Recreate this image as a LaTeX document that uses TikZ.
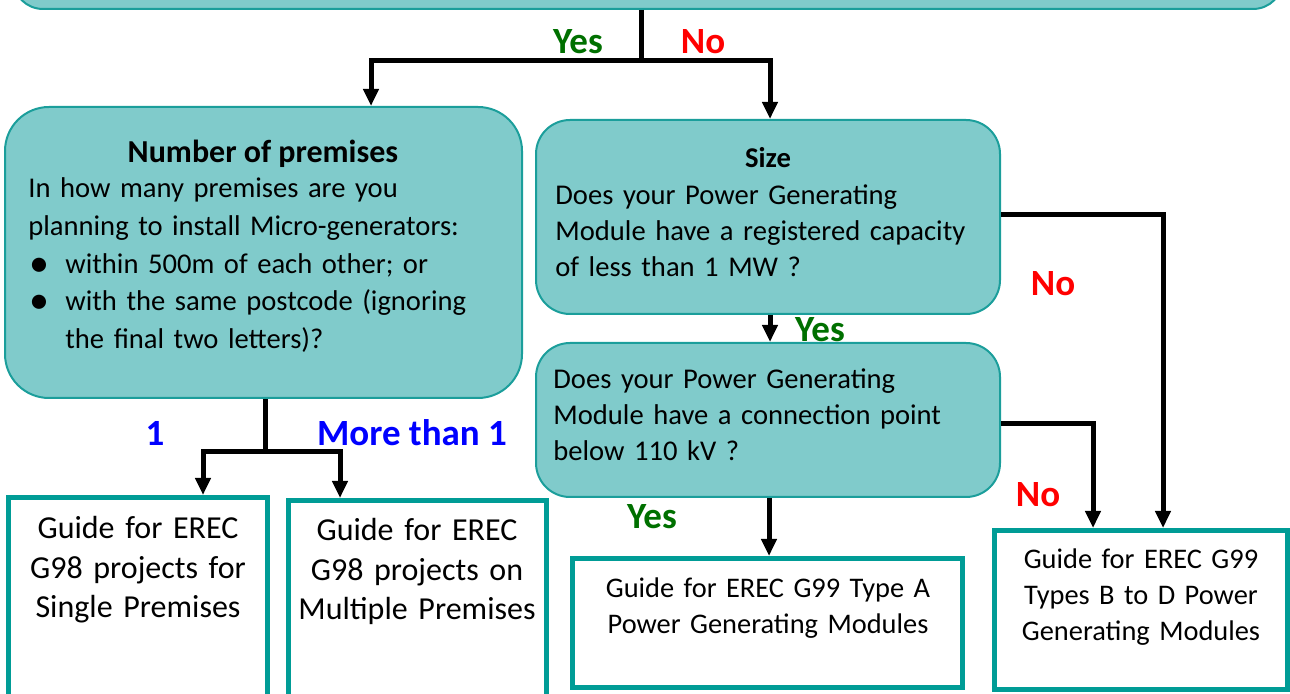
\documentclass[tikz,border=0pt]{standalone}
\usepackage{fontspec}
\setmainfont{Carlito}
\usetikzlibrary{arrows.meta}
\definecolor{qfill}{RGB}{128,203,203}
\definecolor{qdraw}{RGB}{27,158,155}
\definecolor{obord}{RGB}{0,156,150}
\definecolor{ygreen}{RGB}{0,112,0}
\definecolor{nred}{RGB}{255,0,0}
\definecolor{lblue}{RGB}{0,0,255}
\newcommand{\bigbul}{\raisebox{-1.6pt}{\fontsize{20}{20}\selectfont •}}
\begin{document}
\begin{tikzpicture}[x=0.5pt,y=-0.5pt,
  qbox/.style={draw=qdraw, fill=qfill, line width=1pt, rounded corners=17pt, inner sep=0pt},
  obox/.style={draw=obord, fill=white, line width=2.5pt, inner sep=0pt},
  qtext/.style={inner sep=0pt, font=\fontsize{14.3}{18.8}\selectfont},
  otext/.style={inner sep=0pt, align=center, font=\fontsize{16}{19.75}\selectfont},
  otextb/.style={inner sep=0pt, align=center, font=\fontsize{14.2}{18.1}\selectfont},
  lab/.style={inner sep=0pt, font=\bfseries\fontsize{18.5}{21}\selectfont},
  wire/.style={line width=2.5pt, black},
  wirearr/.style={wire, -{Triangle[length=8.5pt,width=7.5pt]}}
]
\useasboundingbox (0,0) rectangle (1290,694);
\clip (0,0) rectangle (1290,694);

% boxes
\node[qbox, minimum width=635pt, minimum height=50pt, rounded corners=15pt] (top) at (648,-41) {};
\node[qbox, minimum width=258.5pt, minimum height=145.5pt, rounded corners=22pt] (prem) at (263.5,252.5) {};
\node[qbox, minimum width=232pt, minimum height=97pt] (size) at (768,217) {};
\node[qbox, minimum width=232pt, minimum height=77pt] (conn) at (768,420) {};
\node[obox, minimum width=129.5pt, minimum height=111.25pt] (out1) at (138,608.75) {};
\node[obox, minimum width=129pt, minimum height=109.75pt] (out2) at (417.5,610.25) {};
\node[obox, minimum width=195pt, minimum height=64.5pt] (out3) at (767.5,623) {};
\node[obox, minimum width=146.25pt, minimum height=79.5pt] (out4) at (1140.75,610) {};

% texts in question boxes
\node[qtext, anchor=base, font=\bfseries\fontsize{16}{19}\selectfont] (premh) at (263,163) {Number of premises};
\node[qtext, anchor=base west, text width=245pt, align=left] (premt) at (28,198)
  {In how many premises are you\\
   planning to install Micro-generators:\\
   \makebox[18.5pt][l]{\hspace{0.5pt}\bigbul}within 500m of each other; or\\
   \makebox[18.5pt][l]{\hspace{0.5pt}\bigbul}with the same postcode (ignoring\\
   \hspace*{18.5pt}the final two letters)?};
\node[qtext, anchor=base] (sizeh) at (768,168) {\bfseries Size};
\node[qtext, anchor=base west, text width=220pt, align=left, font=\fontsize{14.3}{17.8}\selectfont] (sizet) at (555,205)
  {Does your Power Generating\\
   Module have a registered capacity\\
   of less than 1 MW ?};
\node[qtext, anchor=base west, text width=220pt, align=left, font=\fontsize{14.3}{17.8}\selectfont] (connt) at (553,389)
  {Does your Power Generating\\
   Module have a connection point\\
   below 110 kV ?};

% texts in output boxes
\node[otext, anchor=base, text width=125pt] (o1t) at (138,539)
  {Guide for EREC\\G98 projects for\\Single Premises};
\node[otext, anchor=base, text width=125pt] (o2t) at (417,541)
  {Guide for EREC\\G98 projects on\\Multiple Premises};
\node[otextb, anchor=base, text width=190pt] (o3t) at (768,597)
  {Guide for EREC G99 Type A\\Power Generating Modules};
\node[otextb, anchor=base, text width=140pt] (o4t) at (1141,568)
  {Guide for EREC G99\\Types B to D Power\\Generating Modules};

% connectors
\coordinate (j1) at (641,61);
\coordinate (pa) at (371,61);
\coordinate (sa) at (770,61);
\draw[wire] (j1 |- top.south) -- (j1);
\draw[wirearr] (j1) -- (pa) -- (pa |- prem.north);
\draw[wirearr] (j1) -- (sa) -- (sa |- size.north);
\coordinate (sc) at (770,0);
\draw[wirearr] (sc |- size.south) -- (sc |- conn.north);
\coordinate (c1) at (1163,215);
\draw[wirearr] (size.east |- c1) -- (c1) -- (c1 |- out4.north);
\coordinate (c2) at (1093,424);
\draw[wirearr] (conn.east |- c2) -- (c2) -- (c2 |- out4.north);
\coordinate (c3) at (769,0);
\draw[wirearr] (c3 |- conn.south) -- (c3 |- out3.north);
\coordinate (j2) at (265,452);
\coordinate (p1) at (203,452);
\coordinate (p2) at (340,452);
\draw[wire] (j2 |- prem.south) -- (j2);
\draw[wirearr] (j2) -- (p1) -- (p1 |- out1.north);
\draw[wirearr] (j2) -- (p2) -- (p2 |- out2.north);

% labels
\node[lab, text=ygreen] (ly1) at (578,42) {Yes};
\node[lab, text=nred] (ln1) at (703,42) {No};
\node[lab, text=ygreen] (ly2) at (820,330) {Yes};
\node[lab, text=nred] (ln2) at (1053,284) {No};
\node[lab, text=nred] (ln3) at (1038,495) {No};
\node[lab, text=ygreen] (ly3) at (652,517) {Yes};
\node[lab, text=lblue] (l1) at (155,433) {1};
\node[lab, text=lblue] (lm) at (412,433) {More than 1};
\end{tikzpicture}
\end{document}
